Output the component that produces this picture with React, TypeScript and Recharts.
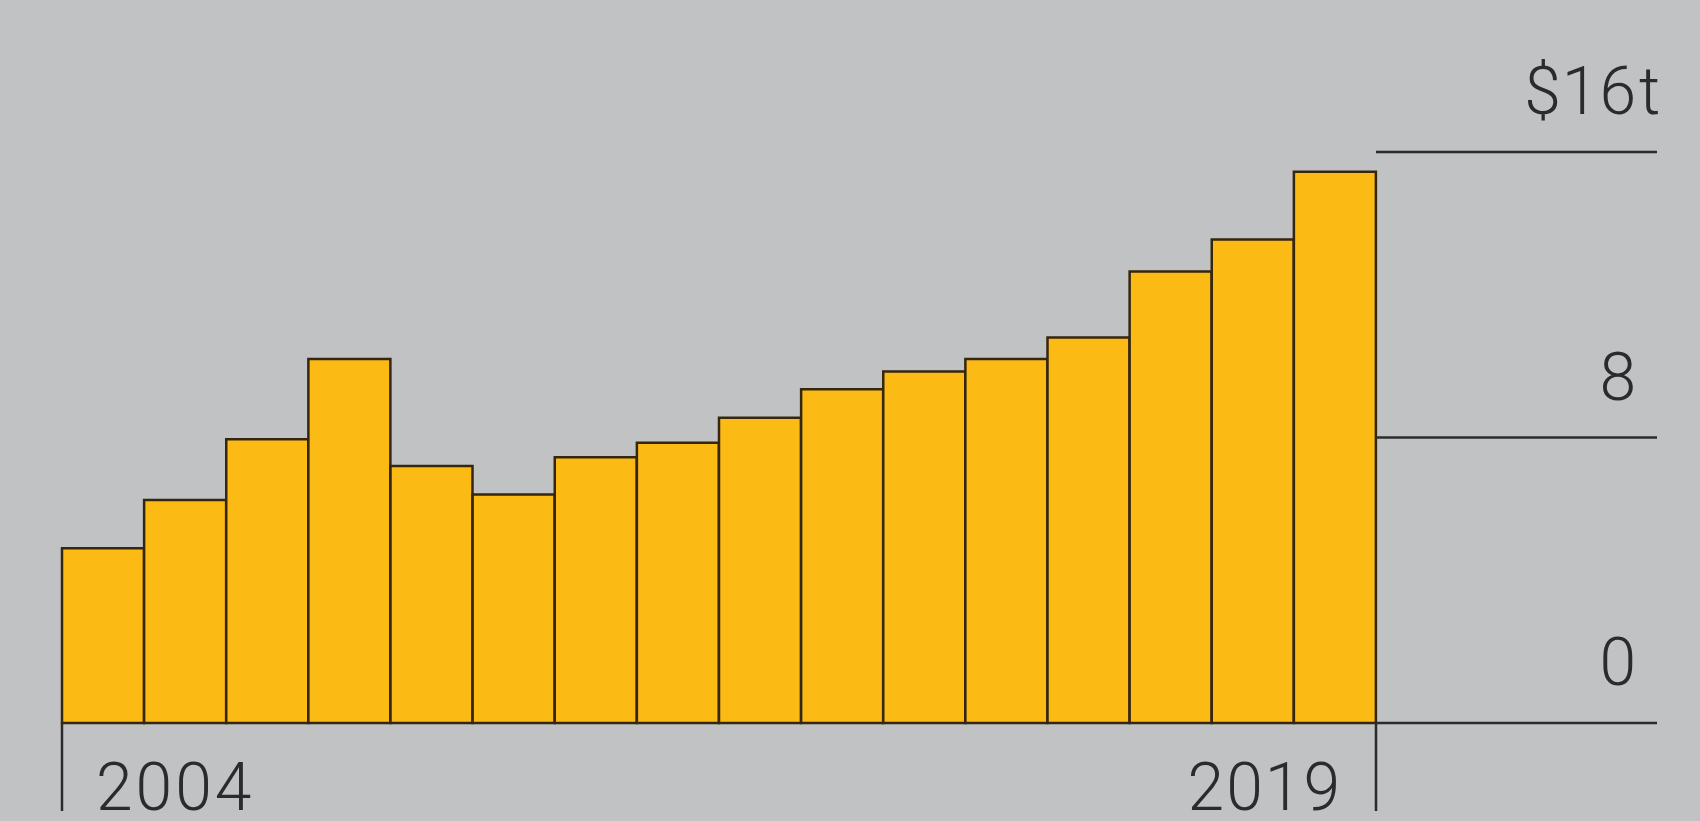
import { Bar, BarChart, XAxis, YAxis } from 'recharts'

const years = ['2004', '2005', '2006', '2007', '2008', '2009', '2010', '2011', '2012', '2013', '2014', '2015', '2016', '2017', '2018', '2019']
const values = [4.9, 6.25, 7.95, 10.2, 7.2, 6.4, 7.45, 7.85, 8.55, 9.35, 9.85, 10.2, 10.8, 12.65, 13.55, 15.45]
const yTicks = [0, 8, 16]
const yTickLabels = ['0', '8', '$16']
const yTickSuffixes = ['', '', 't']

const data = years.map((year, i) => ({ year, value: values[i] }))

const W = 1700
const H = 821
const PLOT_LEFT = 62
const PLOT_RIGHT = 1376
const PLOT_TOP = 152
const PLOT_BOTTOM = 723
const RULE_END = 1657
const DIGIT_COLUMN = 1637
const BAND = (PLOT_RIGHT - PLOT_LEFT) / years.length

const BG = '#c1c2c4'
const INK = '#2b2b2b'
const FONT = 'Roboto, "Noto Sans", sans-serif'
const FONT_SIZE = 66

function YearTick(props: any) {
  const { x, y, index } = props
  const last = years.length - 1
  if (index !== 0 && index !== last) return <g />
  const isFirst = index === 0
  const lineX = isFirst ? x - BAND / 2 : x + BAND / 2
  return (
    <g>
      <line x1={lineX} y1={y} x2={lineX} y2={y + 88} stroke={INK} strokeWidth={2.5} />
      <text
        x={isFirst ? lineX + 34 : lineX - 34}
        y={y + 87}
        textAnchor={isFirst ? 'start' : 'end'}
        fill={INK}
        fontFamily={FONT}
        fontWeight={300}
        fontSize={FONT_SIZE}
        letterSpacing={isFirst ? 3 : 2}
      >
        {years[index]}
      </text>
    </g>
  )
}

function ValueTick(props: any) {
  const { y, index } = props
  const suffix = yTickSuffixes[index]
  return (
    <g>
      <line x1={PLOT_RIGHT} y1={y} x2={RULE_END} y2={y} stroke={INK} strokeWidth={2.5} />
      <text
        x={DIGIT_COLUMN}
        y={y - 38}
        textAnchor="end"
        fill={INK}
        fontFamily={FONT}
        fontWeight={300}
        fontSize={FONT_SIZE}
        letterSpacing={1}
      >
        {yTickLabels[index]}
      </text>
      {suffix && (
        <text
          x={DIGIT_COLUMN + 2}
          y={y - 38}
          textAnchor="start"
          fill={INK}
          fontFamily={FONT}
          fontWeight={300}
          fontSize={FONT_SIZE}
        >
          {suffix}
        </text>
      )}
    </g>
  )
}

export default function App() {
  return (
    <div style={{ position: 'absolute', left: 0, top: 0, width: W, height: H, background: BG }}>
      <BarChart
        width={W}
        height={H}
        data={data}
        barCategoryGap={0}
        barGap={0}
        margin={{ top: PLOT_TOP, right: 0, left: PLOT_LEFT, bottom: 0 }}
      >
        <XAxis
          dataKey="year"
          interval={0}
          axisLine={false}
          tickLine={false}
          tickSize={0}
          tickMargin={0}
          height={H - PLOT_BOTTOM}
          tick={<YearTick />}
        />
        <YAxis
          orientation="right"
          domain={[0, 16]}
          ticks={yTicks}
          width={W - PLOT_RIGHT}
          axisLine={false}
          tickLine={false}
          tickSize={0}
          tickMargin={0}
          tick={<ValueTick />}
        />
        <Bar dataKey="value" fill="#fcbb14" stroke="#34260f" strokeWidth={2.5} isAnimationActive={false} />
      </BarChart>
    </div>
  )
}
